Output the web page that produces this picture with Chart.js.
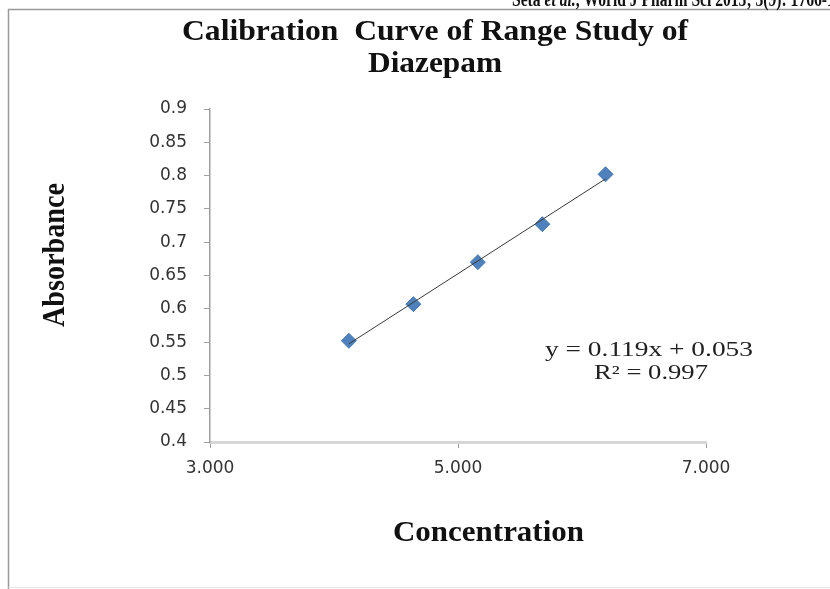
<!DOCTYPE html>
<html>
<head>
<meta charset="utf-8">
<script src="https://cdn.jsdelivr.net/npm/chart.js@4.4.1/dist/chart.umd.min.js"></script>
<style>
  html, body { margin: 0; padding: 0; background: #fff; }
  #wrap { width: 830px; height: 589px; position: relative; }
</style>
</head>
<body>
<div id="wrap"><canvas id="calChart" width="830" height="589"></canvas></div>
<script>
// values
const concentration = [4.12, 4.64, 5.16, 5.68, 6.19];
const absorbance = [0.552, 0.607, 0.670, 0.727, 0.802];
const xTicks = [3, 5, 7];
const yTicks = [0.4, 0.45, 0.5, 0.55, 0.6, 0.65, 0.7, 0.75, 0.8, 0.85, 0.9];
const titleLines = ["Calibration  Curve of Range Study of", "Diazepam"];
const trendLabels = ["y = 0.119x + 0.053", "R\u00b2 = 0.997"];

// least squares trendline through the points
function fitLine(xs, ys) {
    const n = xs.length;
    const mx = xs.reduce((a, b) => a + b, 0) / n;
    const my = ys.reduce((a, b) => a + b, 0) / n;
    let sxy = 0, sxx = 0;
    for (let i = 0; i < n; i++) {
        sxy += (xs[i] - mx) * (ys[i] - my);
        sxx += (xs[i] - mx) * (xs[i] - mx);
    }
    const slope = sxy / sxx;
    return { slope: slope, icpt: my - slope * mx };
}

const fit = fitLine(concentration, absorbance);
const xMin = Math.min(...concentration);
const xMax = Math.max(...concentration);
const trendPoints = [
    { x: xMin, y: fit.slope * xMin + fit.icpt },
    { x: xMax, y: fit.slope * xMax + fit.icpt }
];

// draw text squeezed/stretched to a width, like the scanned figure
function fitText(ctx, str, x, y, font, width, align) {
    ctx.font = font;
    const w = ctx.measureText(str).width;
    const s = width / w;
    ctx.save();
    ctx.translate(x, y);
    ctx.scale(s, 1);
    ctx.textAlign = align || "center";
    ctx.textBaseline = "alphabetic";
    ctx.fillText(str, 0, 0);
    ctx.restore();
}

const decorations = {
    id: "decorations",
    beforeDraw(chart) {
        const ctx = chart.ctx;
        ctx.save();
        ctx.fillStyle = "#fff";
        ctx.fillRect(0, 0, chart.width, chart.height);

        // frame of the figure
        ctx.strokeStyle = "#9a9a9a";
        ctx.lineWidth = 1.5;
        ctx.beginPath();
        ctx.moveTo(830, 9.5);
        ctx.lineTo(8.5, 9.5);
        ctx.lineTo(8.5, 589);
        ctx.stroke();
        ctx.strokeStyle = "#e6e6e6";
        ctx.lineWidth = 1;
        ctx.beginPath();
        ctx.moveTo(8.5, 587.5);
        ctx.lineTo(830, 587.5);
        ctx.stroke();
        ctx.restore();
    },
    afterDraw(chart) {
        const ctx = chart.ctx;
        ctx.save();
        ctx.fillStyle = "#111";

        // running header, cut off at the top edge
        const parts = [
            ["Seta ", "bold 20px 'Liberation Serif'"],
            ["et al.", "bold italic 20px 'Liberation Serif'"],
            [", World J Pharm Sci 2015; 3(9): 1766-1774", "bold 20px 'Liberation Serif'"]
        ];
        let hx = 512;
        const hs = 0.78;
        parts.forEach(p => {
            ctx.font = p[1];
            ctx.save();
            ctx.translate(hx, 6);
            ctx.scale(hs, 1);
            ctx.textAlign = "left";
            ctx.fillText(p[0], 0, 0);
            ctx.restore();
            hx += ctx.measureText(p[0]).width * hs;
        });

        // chart title
        fitText(ctx, titleLines[0], 435, 40, "bold 29px 'Liberation Serif'", 506);
        fitText(ctx, titleLines[1], 435, 72, "bold 29px 'Liberation Serif'", 134);

        // axis titles
        fitText(ctx, "Concentration", 488.5, 541, "bold 30px 'Liberation Serif'", 191);
        ctx.save();
        ctx.translate(64, 255);
        ctx.rotate(-Math.PI / 2);
        fitText(ctx, "Absorbance", 0, 0, "bold 31px 'Liberation Serif'", 144);
        ctx.restore();

        // trendline label
        ctx.fillStyle = "#222";
        fitText(ctx, trendLabels[0], 649, 356, "20px 'Liberation Serif'", 208);
        fitText(ctx, trendLabels[1], 651, 379, "20px 'Liberation Serif'", 114);
        ctx.restore();
    }
};

new Chart(document.getElementById("calChart"), {
    type: "scatter",
    data: {
        datasets: [
            {
                type: "line",
                label: "Linear trend",
                data: trendPoints,
                borderColor: "#3a3a3a",
                borderWidth: 1,
                pointRadius: 0,
                fill: false
            },
            {
                label: "Absorbance",
                data: concentration.map((c, i) => ({ x: c, y: absorbance[i] })),
                pointStyle: "rectRot",
                pointRadius: 7.5,
                backgroundColor: "#4f81bd",
                borderColor: "#4a7ab5",
                borderWidth: 1
            }
        ]
    },
    options: {
        responsive: false,
        animation: false,
        layout: { padding: { left: 0, top: 109, right: 124, bottom: 0 } },
        plugins: {
            legend: { display: false },
            tooltip: { enabled: false }
        },
        scales: {
            x: {
                type: "linear",
                min: xTicks[0],
                max: xTicks[xTicks.length - 1],
                afterBuildTicks: s => { s.ticks = xTicks.map(v => ({ value: v })); },
                afterFit: s => { s.height = 147; },
                border: { color: "#d6d6d6", width: 3 },
                grid: { drawOnChartArea: false, drawTicks: true, tickLength: 6, color: "#9a9a9a" },
                ticks: {
                    padding: 10,
                    color: "#333",
                    font: { family: "DejaVu Sans", size: 17 },
                    callback: v => v.toFixed(3)
                }
            },
            y: {
                min: yTicks[0],
                max: yTicks[yTicks.length - 1],
                afterBuildTicks: s => { s.ticks = yTicks.map(v => ({ value: v })); },
                afterFit: s => { s.width = 210; },
                border: { color: "#a0a0a0", width: 1.5 },
                grid: { drawOnChartArea: false, drawTicks: true, tickLength: 6, color: "#a0a0a0" },
                ticks: {
                    padding: 17,
                    color: "#333",
                    font: { family: "DejaVu Sans", size: 17 },
                    callback: v => String(Number(v.toFixed(2)))
                }
            }
        }
    },
    plugins: [decorations]
});
</script>
</body>
</html>
